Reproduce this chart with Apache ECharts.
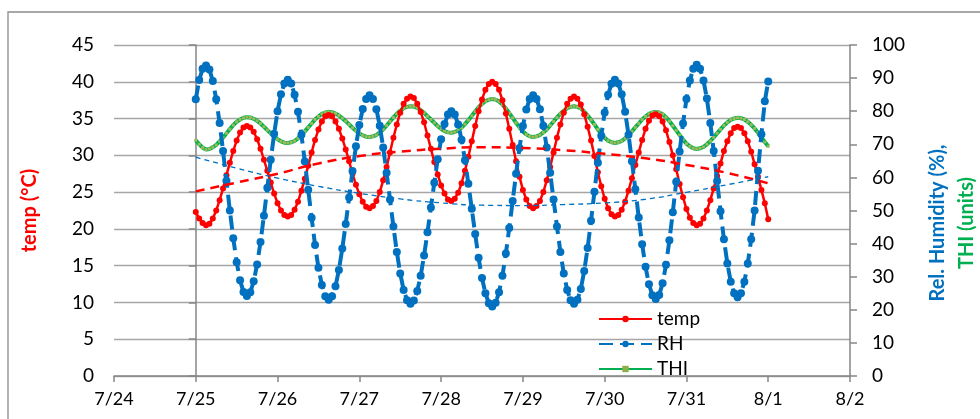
<!DOCTYPE html>
<html>
<head>
<meta charset="utf-8">
<script src="https://cdn.jsdelivr.net/npm/echarts@6/dist/echarts.min.js"></script>
<style>
  html, body { margin: 0; padding: 0; background: #fff; }
  #chart { width: 980px; height: 419px; }
</style>
</head>
<body>
<div id="chart"></div>
<script>
// x-axis tick labels (one per day, 7/24 .. 8/2)
var dateLabels = ['7/24', '7/25', '7/26', '7/27', '7/28', '7/29', '7/30', '7/31', '8/1', '8/2'];
// hourly readings from 7/25 00:00 to 8/1 00:00
var temp = [
  22.3, 21.4, 20.8, 20.5,
  20.7, 21.4, 22.5, 23.9, 25.5, 27.3, 29.0, 30.6, 32.0, 33.1, 33.8, 34.0,
  33.8, 33.2, 32.2, 30.9, 29.4, 27.9, 26.3, 24.8, 23.5, 22.5, 21.9, 21.7,
  21.9, 22.6, 23.7, 25.2, 26.8, 28.6, 30.4, 32.1, 33.5, 34.6, 35.3, 35.5,
  35.3, 34.6, 33.6, 32.3, 30.8, 29.2, 27.5, 26.0, 24.7, 23.7, 23.0, 22.8,
  23.1, 23.8, 25.0, 26.6, 28.4, 30.4, 32.4, 34.2, 35.8, 37.0, 37.7, 38.0,
  37.8, 37.0, 35.9, 34.5, 32.7, 30.9, 29.1, 27.4, 25.9, 24.8, 24.0, 23.8,
  24.1, 24.9, 26.2, 27.9, 29.8, 31.9, 34.0, 36.0, 37.6, 38.9, 39.7, 40.0,
  39.7, 38.9, 37.5, 35.7, 33.6, 31.4, 29.2, 27.1, 25.3, 24.0, 23.1, 22.8,
  23.1, 23.8, 25.0, 26.6, 28.4, 30.4, 32.4, 34.2, 35.8, 37.0, 37.7, 38.0,
  37.7, 36.9, 35.6, 33.9, 32.0, 29.9, 27.7, 25.8, 24.1, 22.8, 22.0, 21.7,
  21.9, 22.6, 23.7, 25.2, 26.9, 28.7, 30.4, 32.1, 33.6, 34.7, 35.4, 35.6,
  35.3, 34.6, 33.4, 31.8, 30.0, 28.1, 26.1, 24.3, 22.7, 21.5, 20.8, 20.5,
  20.7, 21.4, 22.5, 23.9, 25.5, 27.2, 28.9, 30.6, 31.9, 33.0, 33.7, 33.9,
  33.7, 33.0, 31.9, 30.5, 28.8, 27.1, 25.3, 23.5, 21.3
];
var rh = [
  83.6, 89.4, 92.8, 93.8,
  92.6, 89.1, 83.6, 76.4, 68.0, 59.0, 50.0, 41.6, 34.4, 28.9, 25.4, 24.2,
  25.3, 28.6, 33.7, 40.5, 48.4, 56.9, 65.3, 73.2, 80.0, 85.1, 88.4, 89.5,
  88.4, 85.0, 79.8, 72.9, 64.8, 56.3, 47.8, 39.6, 32.7, 27.5, 24.1, 23.0,
  24.1, 27.1, 32.0, 38.5, 45.9, 53.9, 61.9, 69.4, 75.8, 80.7, 83.7, 84.8,
  83.7, 80.6, 75.6, 69.0, 61.4, 53.3, 45.2, 37.5, 31.0, 26.0, 22.9, 21.8,
  22.8, 25.7, 30.3, 36.4, 43.4, 50.9, 58.4, 65.5, 71.5, 76.1, 79.0, 80.0,
  79.0, 76.0, 71.4, 65.2, 58.1, 50.5, 42.9, 35.7, 29.6, 25.0, 22.0, 21.0,
  22.1, 25.3, 30.3, 37.0, 44.7, 52.9, 61.1, 68.9, 75.5, 80.5, 83.7, 84.8,
  83.7, 80.6, 75.6, 69.0, 61.4, 53.3, 45.2, 37.5, 31.0, 26.0, 22.9, 21.8,
  23.0, 26.3, 31.7, 38.7, 46.9, 55.7, 64.4, 72.6, 79.6, 85.0, 88.3, 89.5,
  88.4, 85.1, 79.8, 72.9, 64.9, 56.4, 47.9, 39.8, 33.0, 27.7, 24.4, 23.3,
  24.5, 28.0, 33.6, 41.0, 49.5, 58.7, 67.8, 76.3, 83.7, 89.3, 92.8, 94.0,
  92.8, 89.3, 83.8, 76.4, 68.0, 58.9, 49.8, 41.3, 34.0, 28.5, 25.0, 23.8,
  25.0, 28.5, 34.0, 41.3, 50.0, 62.0, 73.0, 83.0, 89.0
];
var thi = [
  71.2, 70.0, 69.0, 68.4,
  68.6, 69.1, 69.8, 70.9, 72.0, 73.3, 74.6, 75.8, 76.8, 77.5, 78.0, 78.2,
  78.1, 77.7, 77.1, 76.3, 75.3, 74.3, 73.3, 72.4, 71.5, 70.9, 70.5, 70.4,
  70.6, 71.0, 71.8, 72.8, 73.9, 75.1, 76.3, 77.5, 78.4, 79.2, 79.6, 79.8,
  79.7, 79.3, 78.7, 77.9, 77.0, 76.0, 75.0, 74.1, 73.3, 72.7, 72.3, 72.2,
  72.4, 72.8, 73.6, 74.5, 75.7, 76.9, 78.1, 79.2, 80.1, 80.9, 81.3, 81.5,
  81.4, 81.0, 80.3, 79.5, 78.5, 77.5, 76.5, 75.5, 74.7, 74.0, 73.6, 73.5,
  73.7, 74.2, 75.0, 76.1, 77.3, 78.6, 79.9, 81.2, 82.2, 83.0, 83.5, 83.7,
  83.5, 82.9, 82.0, 80.8, 79.4, 78.0, 76.5, 75.1, 73.9, 73.0, 72.4, 72.2,
  72.4, 72.8, 73.6, 74.5, 75.7, 76.9, 78.1, 79.2, 80.1, 80.9, 81.3, 81.5,
  81.3, 80.8, 79.9, 78.7, 77.4, 76.0, 74.5, 73.2, 72.0, 71.1, 70.6, 70.4,
  70.6, 71.0, 71.8, 72.8, 73.9, 75.1, 76.3, 77.5, 78.4, 79.2, 79.6, 79.8,
  79.6, 79.1, 78.2, 77.0, 75.6, 74.2, 72.8, 71.4, 70.2, 69.4, 68.8, 68.6,
  68.8, 69.2, 70.0, 71.0, 72.1, 73.3, 74.5, 75.7, 76.6, 77.4, 77.8, 78.0,
  77.9, 77.5, 76.8, 75.9, 74.8, 73.5, 72.1, 70.7, 69.4
];
// trend lines (one reading every 12 hours from 7/25 00:00)
var tempTrend = [25.1, 26.3, 27.5, 28.9, 29.9, 30.5, 30.9, 31.1, 31.0, 30.7, 30.2, 29.6, 28.7, 27.6, 26.2];
var rhTrend = [66.1, 62.8, 59.8, 57.3, 55.2, 53.5, 52.3, 51.6, 51.5, 51.8, 52.3, 53.4, 55.5, 57.8, 60.2];

var HOURS_PER_DAY = 24;
var TREND_STEP = 12;
function hourly(arr) { return arr.map(function (v, i) { return [i, v]; }); }
function stepped(arr, step) { return arr.map(function (v, i) { return [i * step, v]; }); }

var FONT = 'Lato, "Open Sans", sans-serif';
var chart = echarts.init(document.getElementById('chart'), null, { renderer: 'canvas' });
chart.setOption({
  animation: false,
  backgroundColor: '#ffffff',
  grid: { left: 114, right: 130, top: 45, bottom: 43, containLabel: false },
  graphic: [
    { type: 'rect', shape: { x: 8, y: 12, width: 990, height: 440 }, style: { fill: 'none', stroke: '#8c8c8c', lineWidth: 1.3 }, z: -10 },
    { type: 'text', x: 938, y: 223, rotation: Math.PI / 2,
      style: { text: 'Rel. Humidity (%),', fill: '#0070C0', font: 'bold 20px ' + FONT, align: 'center', verticalAlign: 'middle' } },
    { type: 'text', x: 967, y: 223, rotation: Math.PI / 2,
      style: { text: 'THI (units)', fill: '#00B050', font: 'bold 20px ' + FONT, align: 'center', verticalAlign: 'middle' } }
  ],
  legend: {
    data: ['temp', 'RH', { name: 'THI', itemStyle: { color: '#8DB04A' } }],
    orient: 'vertical',
    left: 593, top: 304,
    itemWidth: 53, itemHeight: 8, itemGap: 5,
    textStyle: { fontFamily: FONT, fontSize: 19, color: '#000', lineHeight: 20 },
    backgroundColor: 'transparent'
  },
  xAxis: {
    type: 'value',
    min: -HOURS_PER_DAY, max: HOURS_PER_DAY * (dateLabels.length - 2), interval: HOURS_PER_DAY,
    axisLine: { show: true, lineStyle: { color: '#868686', width: 1.5 } },
    axisTick: { show: true, length: 6, lineStyle: { color: '#868686', width: 1.5 } },
    axisLabel: { margin: 14, fontFamily: FONT, fontSize: 18, color: '#000',
      formatter: function (v) { return dateLabels[Math.round(v / HOURS_PER_DAY) + 1]; } },
    splitLine: { show: false }
  },
  yAxis: [
    { type: 'value', min: 0, max: 45, interval: 5, position: 'left',
      name: 'temp (°C)', nameLocation: 'middle', nameGap: 74,
      nameTextStyle: { color: '#FF0000', fontWeight: 'bold', fontSize: 20, fontFamily: FONT },
      axisLine: { show: true, lineStyle: { color: '#868686', width: 1.5 } },
      axisTick: { show: true, length: 7, lineStyle: { color: '#868686', width: 1.5 } },
      axisLabel: { margin: 20, fontFamily: FONT, fontSize: 19, color: '#000' },
      splitLine: { show: true, lineStyle: { color: '#A6A6A6', width: 1.3 } } },
    { type: 'value', min: 0, max: 100, interval: 10, position: 'right',
      axisLine: { show: true, lineStyle: { color: '#868686', width: 1.5 } },
      axisTick: { show: true, length: 7, lineStyle: { color: '#868686', width: 1.5 } },
      axisLabel: { margin: 22, fontFamily: FONT, fontSize: 19, color: '#000' },
      splitLine: { show: false } }
  ],
  series: [
    { name: 'THI', type: 'line', yAxisIndex: 1, data: hourly(thi),
      symbol: 'rect', symbolSize: 3, showSymbol: true,
      itemStyle: { color: '#9BBB59' },
      lineStyle: { color: '#00B050', width: 4 }, z: 2 },
    { name: 'temp', type: 'line', yAxisIndex: 0, data: hourly(temp),
      symbol: 'circle', symbolSize: 6, showSymbol: true,
      itemStyle: { color: '#FF0000' },
      lineStyle: { color: '#FF0000', width: 2.5 }, z: 3 },
    { name: 'RH', type: 'line', yAxisIndex: 1, data: hourly(rh),
      symbol: 'circle', symbolSize: 8, showSymbol: true,
      itemStyle: { color: '#0070C0' },
      lineStyle: { color: '#0070C0', width: 4, type: [14, 7] }, z: 4 },
    { name: 'temp trend', type: 'line', yAxisIndex: 0, data: stepped(tempTrend, TREND_STEP),
      smooth: true, showSymbol: false, symbol: 'none',
      lineStyle: { color: '#FF0000', width: 2.5, type: [9, 6] }, z: 5 },
    { name: 'RH trend', type: 'line', yAxisIndex: 1, data: stepped(rhTrend, TREND_STEP),
      smooth: true, showSymbol: false, symbol: 'none',
      lineStyle: { color: '#0070C0', width: 1.3, type: [5, 4] }, z: 5 }
  ]
});
</script>
</body>
</html>
